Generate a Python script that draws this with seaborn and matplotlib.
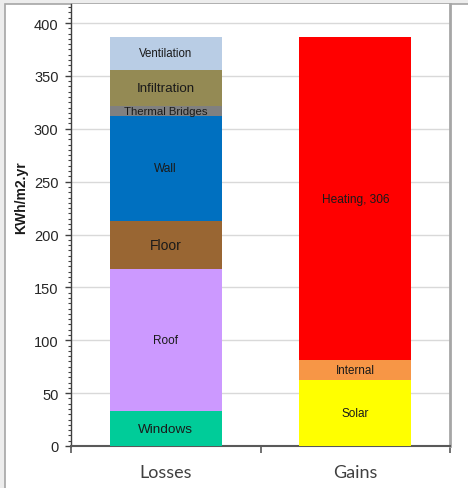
import matplotlib
matplotlib.use("Agg")
import matplotlib.pyplot as plt
import matplotlib.patches as mpatches
from matplotlib.ticker import MultipleLocator, FixedLocator
import seaborn as sns

# Energy balance (kWh/m2.yr)
categories = ["Losses", "Gains"]

loss_names = ["Windows", "Roof", "Floor", "Wall", "Thermal Bridges", "Infiltration", "Ventilation"]
loss_values = [33, 134, 46, 99, 10, 34, 31]
loss_colors = ["#00CC99", "#CC99FF", "#996633", "#0070C0", "#808080", "#948A54", "#B9CDE5"]
loss_sizes = [9.7, 8.5, 10, 8.6, 8.2, 9.6, 8.3]

gain_names = ["Solar", "Internal", "Heating, 306"]
gain_values = [62, 19, 306]
gain_colors = ["#FFFF00", "#F79646", "#FF0000"]
gain_sizes = [8.5, 8.4, 8.6]

y_label = "KWh/m2.yr"

sns.set_theme(style="white")
plt.rcParams["font.family"] = ["Liberation Sans", "DejaVu Sans"]

fig = plt.figure(figsize=(4.68, 4.89), dpi=100, facecolor="#ededed")
# white chart area with a thin grey frame
fig.patches.append(mpatches.Rectangle((5 / 468, -0.05), 1.1, (484 / 489) + 0.05,
                                      transform=fig.transFigure, facecolor="white",
                                      edgecolor="#a6a6a6", linewidth=1.2, zorder=-10))

ax = fig.add_axes([71 / 468, 42 / 489, 379 / 468, 442 / 489])
ax.set_facecolor("white")

BAR_W = 0.59


def stack(ax, cat, names, values, colors, sizes):
    xpos = categories.index(cat)
    tops = []
    run = 0
    for v in values:
        run += v
        tops.append(run)
    # draw cumulative totals from the tallest down so each segment shows
    for top, col in reversed(list(zip(tops, colors))):
        sns.barplot(x=[cat], y=[top], order=categories, color=col, saturation=1,
                    width=BAR_W, ax=ax, edgecolor="none", linewidth=0, zorder=3)
    for name, v, top, fs in zip(names, values, tops, sizes):
        ax.text(xpos, top - v / 2, name, ha="center", va="center",
                fontsize=fs, color="#1a1a1a", zorder=5)


stack(ax, "Losses", loss_names, loss_values, loss_colors, loss_sizes)
stack(ax, "Gains", gain_names, gain_values, gain_colors, gain_sizes)

ax.set_xlim(-0.5, 1.5)
ax.set_ylim(0, 418)

# y axis: majors every 50 with gridlines, minors every 5
ax.yaxis.set_major_locator(FixedLocator(list(range(0, 401, 50))))
ax.yaxis.set_minor_locator(MultipleLocator(5))
ax.grid(axis="y", which="major", color="#d9d9d9", linewidth=1.0, zorder=0)
ax.set_axisbelow(True)
ax.tick_params(axis="y", which="major", length=4, width=1, color="#404040",
               labelsize=10.5, labelcolor="#262626", pad=5, direction="out", left=True)
ax.tick_params(axis="y", which="minor", length=2.5, width=0.8, color="#404040",
               direction="out", left=True)

# x axis: labels under bars, tick marks at the category boundaries
ax.set_xticks([0, 1])
ax.set_xticklabels(categories, fontfamily=["Lato", "DejaVu Sans"], fontsize=13,
                   color="#404040")
ax.xaxis.set_minor_locator(FixedLocator([-0.5, 0.5, 1.5]))
ax.tick_params(axis="x", which="major", length=0, pad=13, bottom=True)
ax.tick_params(axis="x", which="minor", length=5, width=1.2, color="#595959",
               direction="out", bottom=True)
ax.set_xlabel("")

ax.set_ylabel("")
fig.text(21 / 468, 1 - 198 / 489, y_label, rotation=90, ha="center", va="center",
         fontsize=10, fontweight="bold", color="#1a1a1a")

ax.spines["top"].set_visible(False)
ax.spines["left"].set_color("#404040")
ax.spines["left"].set_linewidth(1.0)
ax.spines["bottom"].set_color("#595959")
ax.spines["bottom"].set_linewidth(1.5)
ax.spines["right"].set_color("#a6a6a6")
ax.spines["right"].set_linewidth(2)

fig.savefig("out.png", dpi=100, facecolor=fig.get_facecolor())
